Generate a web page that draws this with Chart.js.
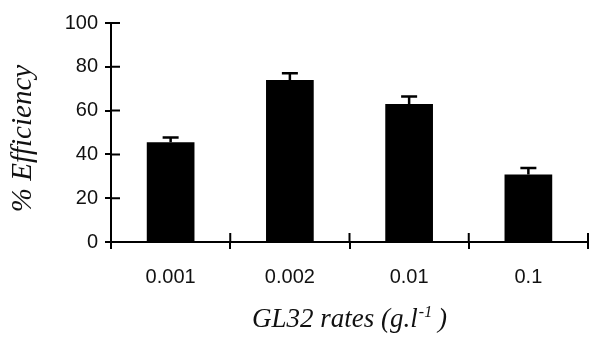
<!DOCTYPE html>
<html>
<head>
<meta charset="utf-8">
<script src="https://cdn.jsdelivr.net/npm/chart.js@4.4.1/dist/chart.umd.min.js"></script>
<style>
  html, body { margin: 0; padding: 0; background: #fff; }
  #wrap { width: 589px; height: 338px; }
</style>
</head>
<body>
<div id="wrap"><canvas id="efficiency" width="589" height="338"></canvas></div>
<script>
var rates = ['0.001', '0.002', '0.01', '0.1'];
var efficiency = [45.5, 74, 63, 30.8];
var errors = [2.2, 3, 3.4, 3];
var yTicks = [0, 20, 40, 60, 80, 100];

var yTitle = '% Efficiency';
var xTitle = ['GL32 rates (g.l', '-1', ' )'];

// little ticks on the inner side of each axis (the original crosses the axis)
var innerTicks = {
    id: 'innerTicks',
    afterDatasetsDraw: function (chart) {
        var ctx = chart.ctx;
        var x = chart.scales.x, y = chart.scales.y;
        var area = chart.chartArea;
        ctx.save();
        ctx.strokeStyle = '#000';
        ctx.lineWidth = 2;
        ctx.beginPath();
        yTicks.forEach(function (v) {
            var py = y.getPixelForValue(v);
            ctx.moveTo(area.left, py);
            ctx.lineTo(area.left + 9, py);
        });
        var bounds = [area.left];
        for (var i = 1; i < rates.length; i++) {
            bounds.push((x.getPixelForValue(i - 1) + x.getPixelForValue(i)) / 2);
        }
        bounds.push(area.right);
        bounds.forEach(function (px) {
            ctx.moveTo(px, area.bottom);
            ctx.lineTo(px, area.bottom - 9);
        });
        ctx.stroke();
        ctx.restore();
    }
};

// upper error bars with a cap
var errorBars = {
    id: 'errorBars',
    afterDatasetsDraw: function (chart) {
        var ctx = chart.ctx;
        var y = chart.scales.y;
        var meta = chart.getDatasetMeta(0);
        ctx.save();
        ctx.strokeStyle = '#000';
        ctx.lineWidth = 2.5;
        meta.data.forEach(function (bar, i) {
            var top = y.getPixelForValue(efficiency[i] + errors[i]);
            ctx.beginPath();
            ctx.moveTo(bar.x, bar.y);
            ctx.lineTo(bar.x, top);
            ctx.moveTo(bar.x - 8, top);
            ctx.lineTo(bar.x + 8, top);
            ctx.stroke();
        });
        ctx.restore();
    }
};

// axis titles: the x one needs a superscript, so both are drawn here
var axisTitles = {
    id: 'axisTitles',
    afterDraw: function (chart) {
        var ctx = chart.ctx;
        var area = chart.chartArea;
        var big = 'italic 27px "Liberation Serif"';
        var small = 'italic 16px "Liberation Serif"';
        ctx.save();
        ctx.fillStyle = '#111';
        ctx.textBaseline = 'alphabetic';
        ctx.textAlign = 'left';

        ctx.font = big;
        var w0 = ctx.measureText(xTitle[0]).width;
        var w2 = ctx.measureText(xTitle[2]).width;
        ctx.font = small;
        var w1 = ctx.measureText(xTitle[1]).width;
        var cx = (area.left + area.right) / 2;
        var sx = cx - (w0 + w1 + w2) / 2;
        var base = area.bottom + 85;
        ctx.font = big;
        ctx.fillText(xTitle[0], sx, base);
        ctx.font = small;
        ctx.fillText(xTitle[1], sx + w0 + 1, base - 10);
        ctx.font = big;
        ctx.fillText(xTitle[2], sx + w0 + w1, base);

        ctx.translate(area.left - 88, (area.top + area.bottom) / 2 + 6);
        ctx.rotate(-Math.PI / 2);
        ctx.font = 'italic 29px "Liberation Serif"';
        ctx.textAlign = 'center';
        ctx.textBaseline = 'middle';
        ctx.fillText(yTitle, 0, 0);
        ctx.restore();
    }
};

var chart = new Chart(document.getElementById('efficiency'), {
    type: 'bar',
    data: {
        labels: rates,
        datasets: [{
            data: efficiency,
            backgroundColor: '#000',
            borderWidth: 0,
            barPercentage: 0.4,
            categoryPercentage: 1
        }]
    },
    options: {
        responsive: false,
        animation: false,
        layout: { padding: { top: 23, right: 1, left: 0, bottom: 0 } },
        plugins: { legend: { display: false }, tooltip: { enabled: false } },
        scales: {
            x: {
                offset: true,
                grid: {
                    offset: true,
                    drawOnChartArea: false,
                    drawTicks: true,
                    tickLength: 7,
                    lineWidth: 2,
                    color: '#000'
                },
                border: { display: true, color: '#000', width: 2 },
                ticks: {
                    color: '#111',
                    font: { family: 'Liberation Sans', size: 20 },
                    padding: 16,
                    maxRotation: 0
                },
                afterFit: function (scale) { scale.height = 96; }
            },
            y: {
                min: 0,
                max: 100,
                grid: {
                    drawOnChartArea: false,
                    drawTicks: true,
                    tickLength: 6,
                    lineWidth: 2,
                    color: '#000'
                },
                border: { display: true, color: '#000', width: 2 },
                ticks: {
                    stepSize: 20,
                    color: '#111',
                    font: { family: 'Liberation Sans', size: 20 },
                    padding: 7
                },
                afterFit: function (scale) { scale.width = 111; }
            }
        }
    },
    plugins: [innerTicks, errorBars, axisTitles]
});
</script>
</body>
</html>
